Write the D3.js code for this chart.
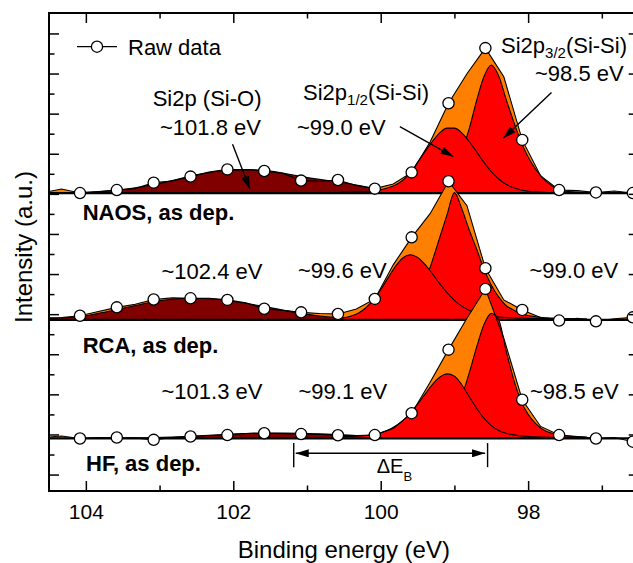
<!DOCTYPE html>
<html>
<head>
<meta charset="utf-8">
<title>Si2p XPS spectra</title>
<script src="https://cdn.jsdelivr.net/npm/d3@7/dist/d3.min.js"></script>
<style>
	body { margin: 0; background: #fff; }
	.xps-plot text { font-family: "Liberation Sans", Arial, Helvetica, sans-serif; fill: #000; }
</style>
</head>
<body>
<div class="xps-plot"></div>
<script>
// binding energy grid of the measured spectra (eV)
const rawEnergy = [104.58, 104.33, 104.08, 103.83, 103.58, 103.33, 103.08, 102.83, 102.58, 102.33, 102.08, 101.83, 101.58, 101.33, 101.08, 100.83, 100.58, 100.33, 100.08, 99.83, 99.58, 99.33, 99.08, 98.83, 98.58, 98.33, 98.08, 97.83, 97.58, 97.33, 97.08, 96.83, 96.58, 96.33];
// finer grid used for the Si-Si fit components (eV)
const fitEnergy = [100.6, 100.5, 100.4, 100.3, 100.2, 100.1, 100.0, 99.9, 99.8, 99.7, 99.6, 99.5, 99.4, 99.3, 99.2, 99.1, 99.0, 98.9, 98.8, 98.7, 98.6, 98.5, 98.4, 98.3, 98.2, 98.1, 98.0, 97.9, 97.8, 97.7, 97.6, 97.5, 97.4, 97.3, 97.2];

const sampleNames = ["NAOS, as dep.", "RCA, as dep.", "HF, as dep."];
// vertical offset of each spectrum (a.u.)
const baselineOffsets = [14.04, 7.71, 1.8];

// NAOS
const naosRaw = [0.02, 0.2, 0.0, 0.06, 0.15, 0.22, 0.52, 0.6, 0.82, 1.05, 1.18, 1.16, 1.1, 0.98, 0.62, 0.58, 0.65, 0.38, 0.22, 0.45, 1.03, 2.55, 4.48, 5.95, 7.23, 5.8, 2.65, 0.85, 0.15, 0.12, 0.03, 0.1, 0.0, 0.03];
const naosSiO = [0.01, 0.02, 0.04, 0.08, 0.15, 0.26, 0.42, 0.62, 0.85, 1.02, 1.14, 1.17, 1.14, 1.0, 0.82, 0.68, 0.56, 0.4, 0.23, 0.13, 0.07, 0.04, 0.02, 0.01, 0, 0, 0, 0, 0, 0, 0, 0, 0, 0];
const naosP12 = [0.02, 0.03, 0.03, 0.04, 0.06, 0.09, 0.16, 0.26, 0.4, 0.64, 1.0, 1.53, 2.06, 2.57, 3.0, 3.24, 3.24, 3.0, 2.57, 2.06, 1.53, 1.07, 0.7, 0.44, 0.26, 0.16, 0.09, 0.06, 0.04, 0.03, 0.03, 0.02, 0.02, 0.01, 0.01];
const naosP32 = [0.03, 0.04, 0.04, 0.05, 0.05, 0.06, 0.06, 0.08, 0.09, 0.11, 0.13, 0.16, 0.2, 0.3, 0.5, 0.8, 1.3, 2.1, 3.2, 4.6, 5.8, 6.39, 5.85, 4.7, 3.6, 2.6, 1.8, 1.2, 0.75, 0.42, 0.2, 0.1, 0.06, 0.04, 0.03];

// RCA
const rcaRaw = [0.1, 0.12, 0.21, 0.42, 0.63, 0.78, 1.02, 1.1, 1.08, 1.08, 1.0, 0.86, 0.56, 0.48, 0.38, 0.32, 0.3, 0.55, 1.05, 2.75, 4.12, 5.3, 6.92, 5.7, 2.58, 1.0, 0.5, 0.12, -0.03, 0.08, -0.07, 0.06, 0.13, 0.05];
const rcaSiO = [0.06, 0.1, 0.17, 0.33, 0.52, 0.72, 0.91, 1.03, 1.08, 1.06, 0.97, 0.83, 0.67, 0.5, 0.33, 0.2, 0.12, 0.06, 0.03, 0.01, 0, 0, 0, 0, 0, 0, 0, 0, 0, 0, 0, 0, 0, 0];
const rcaP12 = [0.07, 0.11, 0.2, 0.35, 0.61, 1.0, 1.51, 2.1, 2.67, 3.09, 3.25, 3.12, 2.77, 2.31, 1.81, 1.36, 0.98, 0.69, 0.48, 0.33, 0.24, 0.19, 0.15, 0.12, 0.1, 0.09, 0.08, 0.07, 0.07, 0.06, 0.05, 0.05, 0.04, 0.04, 0.04];
const rcaP32 = [0.05, 0.06, 0.07, 0.08, 0.09, 0.11, 0.14, 0.19, 0.27, 0.42, 0.7, 1.2, 1.9, 2.95, 4.1, 5.25, 6.35, 5.55, 4.5, 3.55, 2.55, 1.75, 1.15, 0.72, 0.5, 0.33, 0.22, 0.16, 0.12, 0.1, 0.08, 0.07, 0.06, 0.05, 0.05];

// HF
const hfRaw = [0.05, 0.12, 0.0, 0.05, 0.05, 0.03, -0.07, 0.05, 0.1, 0.15, 0.17, 0.25, 0.26, 0.24, 0.22, 0.2, 0.16, 0.14, 0.17, 0.5, 1.26, 2.8, 4.43, 6.0, 7.46, 5.0, 1.93, 0.6, 0.17, 0.1, 0.0, 0.05, -0.16, -0.1];
const hfSiO = [0, 0, 0, 0.01, 0.01, 0.02, 0.04, 0.07, 0.11, 0.16, 0.21, 0.25, 0.27, 0.27, 0.26, 0.23, 0.19, 0.14, 0.1, 0.06, 0.04, 0.02, 0.01, 0, 0, 0, 0, 0, 0, 0, 0, 0, 0, 0];
const hfP12 = [0.08, 0.09, 0.1, 0.12, 0.15, 0.21, 0.29, 0.42, 0.62, 0.89, 1.27, 1.71, 2.2, 2.68, 3.05, 3.22, 3.11, 2.68, 2.09, 1.51, 1.01, 0.64, 0.4, 0.26, 0.18, 0.13, 0.1, 0.08, 0.07, 0.06, 0.05, 0.05, 0.04, 0.04, 0.04];
const hfP32 = [0.03, 0.04, 0.04, 0.04, 0.05, 0.05, 0.06, 0.07, 0.07, 0.09, 0.1, 0.13, 0.16, 0.24, 0.4, 0.71, 1.25, 2.11, 3.26, 4.54, 5.67, 6.24, 5.93, 4.4, 3.0, 1.9, 1.2, 0.75, 0.45, 0.28, 0.18, 0.13, 0.1, 0.08, 0.07];

const peakLabels = [
	["~101.8 eV", "~99.0 eV", "~98.5 eV"],
	["~102.4 eV", "~99.6 eV", "~99.0 eV"],
	["~101.3 eV", "~99.1 eV", "~98.5 eV"],
];

const xMajorTicks = [104, 102, 100, 98];
const xMinorTicks = [103, 101, 99, 97];
const yMajorTicks = [0, 2, 4, 6, 8, 10, 12, 14, 16, 18, 20, 22];
const yMinorTicks = [1, 3, 5, 7, 9, 11, 13, 15, 17, 19, 21];

// energies marked by the Delta E_B bracket (eV)
const deltaEBounds = [101.18, 98.55];

const colors = { raw: "#ff8000", siO: "#800000", siSi: "#ff0000" };

const width = 633;
const height = 563;
const box = { left: 49, right: 638.7, top: 13, bottom: 491 };

const xScale = d3.scaleLinear().domain([104.5, 96.5]).range([box.left, box.right]);
const yScale = d3.scaleLinear().domain([-0.82, 23.02]).range([box.bottom, box.top]);

const spectra = [
	{ offset: baselineOffsets[0], raw: naosRaw, siO: naosSiO, p12: naosP12, p32: naosP32 },
	{ offset: baselineOffsets[1], raw: rcaRaw, siO: rcaSiO, p12: rcaP12, p32: rcaP32 },
	{ offset: baselineOffsets[2], raw: hfRaw, siO: hfSiO, p12: hfP12, p32: hfP32 },
];

const svg = d3.select(".xps-plot").append("svg")
	.attr("width", width)
	.attr("height", height);

const defs = svg.append("defs");
defs.append("clipPath").attr("id", "plot-area")
	.append("rect")
	.attr("x", box.left).attr("y", box.top)
	.attr("width", box.right - box.left).attr("height", box.bottom - box.top);
defs.append("marker")
	.attr("id", "arrow-head")
	.attr("viewBox", "0 0 13 8")
	.attr("refX", 13).attr("refY", 4)
	.attr("markerWidth", 13).attr("markerHeight", 8)
	.attr("markerUnits", "userSpaceOnUse")
	.attr("orient", "auto-start-reverse")
	.append("path").attr("d", "M0,0L13,4L0,8Z").attr("fill", "#000");

const plot = svg.append("g").attr("clip-path", "url(#plot-area)");

spectra.forEach((s) => {
	const g = plot.append("g");
	const base = s.offset;
	const rawPts = rawEnergy.map((e, i) => ({ e, v: s.raw[i], i }));
	const siOPts = rawEnergy.map((e, i) => ({ e, v: s.siO[i] }));
	const p12Pts = fitEnergy.map((e, i) => ({ e, v: s.p12[i] }));
	const p32Pts = fitEnergy.map((e, i) => ({ e, v: s.p32[i] }));

	const area = (curve) => d3.area().curve(curve)
		.x((d) => xScale(d.e))
		.y0(yScale(base))
		.y1((d) => yScale(base + Math.max(d.v, 0)));
	const line = (curve) => d3.line().curve(curve)
		.x((d) => xScale(d.e))
		.y((d) => yScale(base + d.v));

	// measured spectrum filled in orange, fit components on top
	g.append("path").attr("d", area(d3.curveLinear)(rawPts)).attr("fill", colors.raw);

	[[siOPts, colors.siO], [p32Pts, colors.siSi], [p12Pts, colors.siSi]].forEach(([pts, c]) => {
		g.append("path").attr("d", area(d3.curveMonotoneX)(pts)).attr("fill", c);
		g.append("path").attr("d", line(d3.curveMonotoneX)(pts))
			.attr("fill", "none").attr("stroke", "#000").attr("stroke-width", 1.1);
	});

	g.append("path").attr("d", line(d3.curveLinear)(rawPts))
		.attr("fill", "none").attr("stroke", "#000").attr("stroke-width", 1.1);

	g.append("line")
		.attr("x1", box.left).attr("x2", box.right)
		.attr("y1", yScale(base)).attr("y2", yScale(base))
		.attr("stroke", "#000").attr("stroke-width", 2.2);

	g.selectAll("circle")
		.data(rawPts.filter((d) => d.i % 2 === 0 && d.i > 0))
		.join("circle")
		.attr("cx", (d) => xScale(d.e))
		.attr("cy", (d) => yScale(base + d.v))
		.attr("r", 5.6)
		.attr("fill", "#fff")
		.attr("stroke", "#000")
		.attr("stroke-width", 1.3);
});

// axes, ticks pointing inwards on all four sides
const fontFamily = '"Liberation Sans", Arial, Helvetica, sans-serif';
function styleAxis(sel) {
	sel.select(".domain").remove();
	sel.selectAll(".tick line").attr("stroke-width", 1.5);
	sel.attr("font-family", fontFamily).attr("font-size", 21);
}

svg.append("g").attr("transform", `translate(0,${box.bottom})`)
	.call(d3.axisBottom(xScale).tickValues(xMajorTicks).tickSizeInner(-10).tickSizeOuter(0).tickPadding(13).tickFormat(d3.format("d")))
	.call(styleAxis);
svg.append("g").attr("transform", `translate(0,${box.bottom})`)
	.call(d3.axisBottom(xScale).tickValues(xMinorTicks).tickSizeInner(-5.5).tickSizeOuter(0).tickFormat(""))
	.call(styleAxis);
svg.append("g").attr("transform", `translate(0,${box.top})`)
	.call(d3.axisTop(xScale).tickValues(xMajorTicks).tickSizeInner(-10).tickSizeOuter(0).tickFormat(""))
	.call(styleAxis);
svg.append("g").attr("transform", `translate(0,${box.top})`)
	.call(d3.axisTop(xScale).tickValues(xMinorTicks).tickSizeInner(-5.5).tickSizeOuter(0).tickFormat(""))
	.call(styleAxis);
[[d3.axisLeft, box.left], [d3.axisRight, box.right]].forEach(([axis, pos]) => {
	svg.append("g").attr("transform", `translate(${pos},0)`)
		.call(axis(yScale).tickValues(yMajorTicks).tickSizeInner(-10).tickSizeOuter(0).tickFormat(""))
		.call(styleAxis);
	svg.append("g").attr("transform", `translate(${pos},0)`)
		.call(axis(yScale).tickValues(yMinorTicks).tickSizeInner(-5.5).tickSizeOuter(0).tickFormat(""))
		.call(styleAxis);
});

svg.append("rect")
	.attr("x", box.left).attr("y", box.top)
	.attr("width", box.right - box.left).attr("height", box.bottom - box.top)
	.attr("fill", "none").attr("stroke", "#000").attr("stroke-width", 2);

svg.append("text")
	.attr("x", (box.left + box.right) / 2).attr("y", 558)
	.attr("text-anchor", "middle").attr("font-size", 24)
	.text("Binding energy (eV)");
svg.append("text")
	.attr("transform", "translate(31.5,247) rotate(-90)")
	.attr("text-anchor", "middle").attr("font-size", 24)
	.text("Intensity (a.u.)");

// legend
const legend = svg.append("g");
legend.append("line").attr("x1", 77).attr("x2", 117).attr("y1", 46.7).attr("y2", 46.7)
	.attr("stroke", "#000").attr("stroke-width", 1.3);
legend.append("circle").attr("cx", 97).attr("cy", 46.7).attr("r", 5.6)
	.attr("fill", "#fff").attr("stroke", "#000").attr("stroke-width", 1.3);
legend.append("text").attr("x", 128).attr("y", 54.5).attr("font-size", 22).text("Raw data");

// annotations
const notes = svg.append("g").attr("font-size", 22);

const componentLabels = [
	{ x: 152.7, y: 106, parts: [["Si2p (Si-O)"]] },
	{ x: 303, y: 100, parts: [["Si2p"], ["1/2", true], ["(Si-Si)"]] },
	{ x: 501, y: 53, parts: [["Si2p"], ["3/2", true], ["(Si-Si)"]] },
];
componentLabels.forEach((lab) => {
	const t = notes.append("text").attr("x", lab.x).attr("y", lab.y);
	let shifted = false;
	lab.parts.forEach(([str, sub]) => {
		const span = t.append("tspan").text(str);
		if (sub) {
			span.attr("font-size", 15).attr("dy", 5);
			shifted = true;
		} else if (shifted) {
			span.attr("dy", -5);
			shifted = false;
		}
	});
});

const peakLabelPos = [
	[[160, 135], [297, 135], [535, 81]],
	[[161.5, 279], [298, 278], [529.5, 278]],
	[[161.5, 399], [298.5, 398.5], [530, 398.5]],
];
peakLabels.forEach((row, k) => {
	row.forEach((str, j) => {
		notes.append("text")
			.attr("x", peakLabelPos[k][j][0]).attr("y", peakLabelPos[k][j][1])
			.text(str);
	});
});

const sampleLabelPos = [[82.7, 220], [82.7, 353], [86, 471]];
sampleNames.forEach((str, k) => {
	notes.append("text")
		.attr("x", sampleLabelPos[k][0]).attr("y", sampleLabelPos[k][1])
		.attr("font-weight", "bold")
		.text(str);
});

// arrows pointing at the NAOS components: [energy, height above baseline]
const naosArrows = [
	[[102.01, 2.44], [101.775, 0.2]],
	[[99.74, 3.31], [99.016, 1.82]],
	[[97.683, 5.02], [98.337, 2.73]],
];
naosArrows.forEach(([from, to]) => {
	notes.append("line")
		.attr("x1", xScale(from[0])).attr("y1", yScale(baselineOffsets[0] + from[1]))
		.attr("x2", xScale(to[0])).attr("y2", yScale(baselineOffsets[0] + to[1]))
		.attr("stroke", "#000").attr("stroke-width", 1.4)
		.attr("marker-end", "url(#arrow-head)");
});

// Delta E_B bracket below the HF spectrum
const hfBase = baselineOffsets[2];
const bracket = svg.append("g");
deltaEBounds.forEach((e) => {
	bracket.append("line")
		.attr("x1", xScale(e)).attr("x2", xScale(e))
		.attr("y1", yScale(hfBase - 0.23)).attr("y2", yScale(hfBase - 1.43))
		.attr("stroke", "#000").attr("stroke-width", 1.4);
});
bracket.append("line")
	.attr("x1", xScale(deltaEBounds[0]) + 2).attr("x2", xScale(deltaEBounds[1]) - 2.5)
	.attr("y1", yScale(hfBase - 0.74)).attr("y2", yScale(hfBase - 0.74))
	.attr("stroke", "#000").attr("stroke-width", 1.4)
	.attr("marker-start", "url(#arrow-head)")
	.attr("marker-end", "url(#arrow-head)");
const dText = bracket.append("text").attr("x", 376.7).attr("y", 473.3).attr("font-size", 20);
dText.append("tspan").text("\u0394E");
dText.append("tspan").attr("font-size", 13).attr("dy", 8).text("B");
</script>
</body>
</html>
